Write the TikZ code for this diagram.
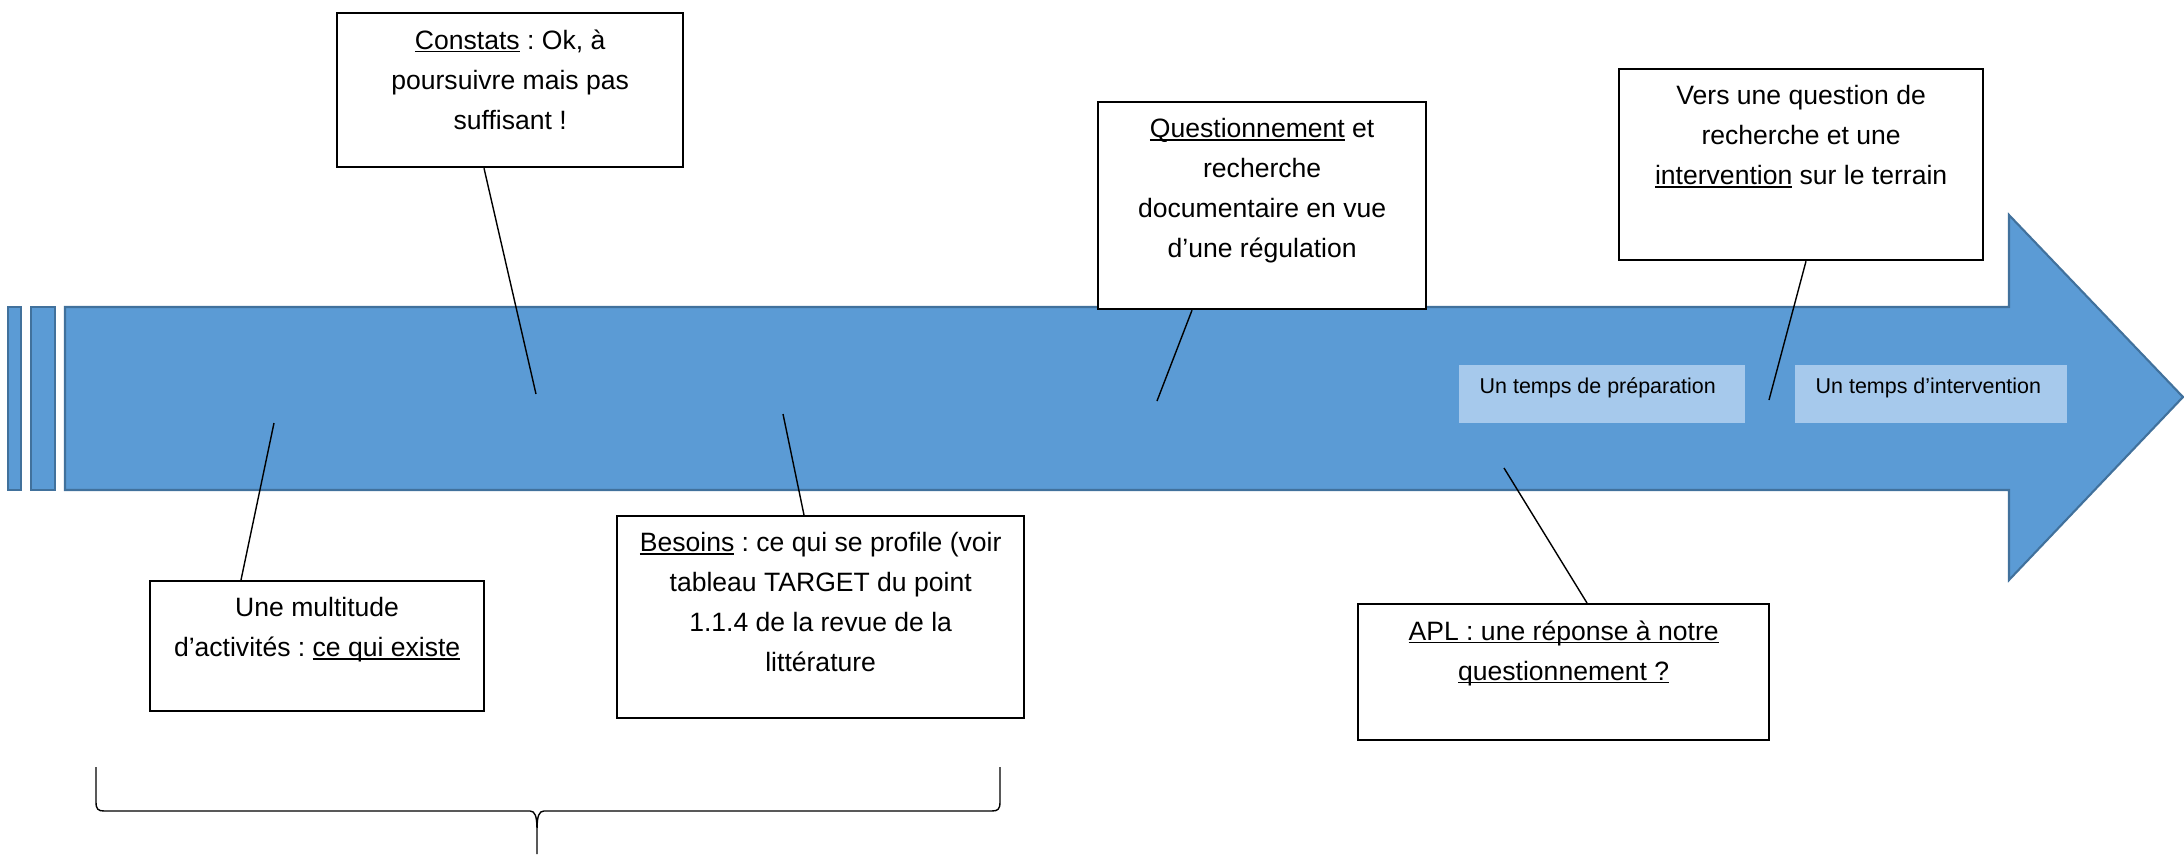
\documentclass[tikz,border=0pt]{standalone}
\usepackage{fontspec}
\setmainfont{Liberation Sans}
\usetikzlibrary{positioning, calc}
\definecolor{BLUE}{HTML}{5B9BD5}
\definecolor{EDGEBLUE}{HTML}{41719C}
\definecolor{PALEBLUE}{HTML}{A6C9EC}
\definecolor{BLACK}{HTML}{000000}
\frenchspacing
\newcommand{\undl}[1]{\setbox0=\hbox{#1}\rlap{\rule[-0.12em]{\wd0}{0.065em}}\box0\relax}

\begin{document}
\begin{tikzpicture}[x=0.01cm, y=-0.01cm,
    note/.style={draw=BLACK, line width=0.6pt, fill=white, inner sep=0pt, anchor=north west},
    notetext/.style={align=center, inner sep=0pt, anchor=north, font=\fontsize{7.55}{11.35}\selectfont},
    phase/.style={fill=PALEBLUE, inner sep=0pt, anchor=north west, minimum height=0.58cm},
    phasetext/.style={anchor=base west, inner sep=0pt, font=\fontsize{6.1}{7.3}\selectfont},
    link/.style={BLACK, line width=0.4pt}]
    \useasboundingbox (0,0) rectangle (2184,854);
    % the time line
    \draw[EDGEBLUE, fill=BLUE, line width=0.6pt] (8,307) rectangle (21,490);
    \draw[EDGEBLUE, fill=BLUE, line width=0.6pt] (31,307) rectangle (55,490);
    \draw[EDGEBLUE, fill=BLUE, line width=0.6pt] (65,307) -- (2009,307) -- (2009,215) -- (2183,397)
        -- (2009,580) -- (2009,490) -- (65,490) -- cycle;
    % the two phases
    \node[phase, minimum width=2.86cm] (prep) at (1458,364) {};
    \node[phase, minimum width=2.72cm] (interv) at (1794,364) {};
    \node[phasetext] (preptxt) at ($(prep.north west)+(21,29)$) {Un temps de préparation};
    \node[phasetext] (intervtxt) at ($(interv.north west)+(21,29)$) {Un temps d’intervention};
    % boxes above
    \node[note, minimum width=3.46cm, minimum height=1.54cm] (constats) at (336,12) {};
    \node[notetext, below=0.17cm of constats.north] (constatstxt)
        {\undl{Constats} : Ok, à\\poursuivre mais pas\\suffisant !};
    \node[note, minimum width=3.28cm, minimum height=2.07cm] (quest) at (1097,101) {};
    \node[notetext, below=0.17cm of quest.north] (questtxt)
        {\undl{Questionnement} et\\recherche\\documentaire en vue\\d’une régulation};
    \node[note, minimum width=3.64cm, minimum height=1.91cm] (vers) at (1618,68) {};
    \node[notetext, below=0.17cm of vers.north] (verstxt)
        {Vers une question de\\recherche et une\\\undl{intervention} sur le terrain};
    % boxes below
    \node[note, minimum width=3.34cm, minimum height=1.30cm] (multi) at (149,580) {};
    \node[notetext, below=0.17cm of multi.north] (multitxt)
        {Une multitude\\d’activités : \undl{ce qui existe}};
    \node[note, minimum width=4.07cm, minimum height=2.02cm] (besoins) at (616,515) {};
    \node[notetext, below=0.17cm of besoins.north] (besoinstxt)
        {\undl{Besoins} : ce qui se profile (voir\\tableau TARGET du point\\1.1.4 de la revue de la\\littérature};
    \node[note, minimum width=4.11cm, minimum height=1.36cm] (apl) at (1357,603) {};
    \node[notetext, below=0.17cm of apl.north] (apltxt)
        {\undl{APL : une réponse à notre}\\\undl{questionnement ?}};
    % connectors
    \coordinate (constatsend) at (536,394);
    \coordinate (questend) at (1157,401);
    \coordinate (versend) at (1769,400);
    \coordinate (multiend) at (274,423);
    \coordinate (besoinsend) at (783,414);
    \coordinate (aplend) at (1504,468);
    \draw[link] ($(constats.south west)+(148,0)$) -- (constatsend);
    \draw[link] ($(quest.south west)+(95,0)$) -- (questend);
    \draw[link] ($(vers.south west)+(188,0)$) -- (versend);
    \draw[link] ($(multi.north west)+(92,0)$) -- (multiend);
    \draw[link] ($(besoins.north west)+(188,0)$) -- (besoinsend);
    \draw[link] ($(apl.north west)+(230,0)$) -- (aplend);
    % brace
    \draw[link] (96,767) -- (96,802) .. controls (96,809) and (98,811) .. (104,811) -- (530,811)
        .. controls (535,811) and (537,816) .. (537,830) -- (537,854)
        (537,830) .. controls (537,816) and (539,811) .. (544,811) -- (992,811)
        .. controls (998,811) and (1000,809) .. (1000,802) -- (1000,767);
\end{tikzpicture}
\end{document}
